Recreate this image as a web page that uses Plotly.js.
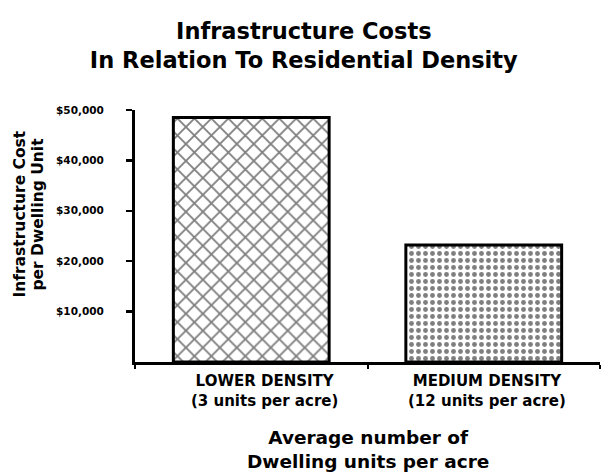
<!DOCTYPE html>
<html>
<head>
<meta charset="utf-8">
<script src="https://cdn.plot.ly/plotly-3.0.1.min.js"></script>
<style>html,body{margin:0;padding:0;background:#fff;}#chart{width:604px;height:473px;}</style>
</head>
<body>
<div id="chart"></div>
<script>
const categories = ["LOWER DENSITY", "MEDIUM DENSITY"];
const subLabels = ["(3 units per acre)", "(12 units per acre)"];
const costs = [48500, 23200];
const tickValues = [10000, 20000, 30000, 40000, 50000];
const tickLabels = ["$10,000", "$20,000", "$30,000", "$40,000", "$50,000"];
const titleLines = ["Infrastructure Costs", "In Relation To Residential Density"];
const xTitleLines = ["Average number of", "Dwelling units per acre"];
const yTitleLines = ["Infrastructure Cost", "per Dwelling Unit"];

const F = "DejaVu Sans, Liberation Sans, Arial, sans-serif";

const trace = {
  type: "bar",
  x: categories,
  y: costs,
  width: 0.67,
  marker: {
    color: "#ffffff",
    line: {color: "#000000", width: 3},
    pattern: {
      shape: ["x", "."],
      size: [12, 7],
      solidity: [0.28, 0.38],
      fgcolor: "#000000",
      bgcolor: "#ffffff",
      fillmode: "overlay"
    }
  },
  hoverinfo: "none"
};

const catShift = [13, 3];
const annotations = [];
categories.forEach((c, i) => {
  annotations.push({
    xref: "x", yref: "paper", x: c, y: 0,
    yanchor: "middle", xanchor: "center", yshift: -29, xshift: catShift[i],
    text: "<b>" + c + "</b><br><b>" + subLabels[i] + "</b>", showarrow: false,
    align: "center", borderpad: 0,
    font: {family: F, size: 15, color: "#000"}
  });
});
annotations.push({
  xref: "paper", yref: "paper", x: 0.5, y: 0, yanchor: "middle", yshift: -87,
  text: xTitleLines.map(t => "<b>" + t + "</b>").join("<br>"),
  showarrow: false, font: {family: F, size: 18.5, color: "#000"}
});
const yTitleX = [20, 38];
yTitleLines.forEach((t, i) => {
  annotations.push({
    xref: "paper", yref: "paper", x: (yTitleX[i] - 135) / 465, xanchor: "center",
    y: 0.585, yanchor: "middle", textangle: -90, borderpad: 0,
    text: "<b>" + t + "</b>", showarrow: false,
    font: {family: F, size: 15.5, color: "#000"}
  });
});

const layout = {
  width: 604, height: 473,
  margin: {l: 135, r: 4, t: 110, b: 111},
  paper_bgcolor: "#fff", plot_bgcolor: "#fff",
  showlegend: false,
  title: {
    text: titleLines.map(t => "<b>" + t + "</b>").join("<br>"),
    font: {family: F, size: 22.5, color: "#000"},
    x: 0.503, xanchor: "center", y: 0.918, yanchor: "top"
  },
  xaxis: {
    type: "category", range: [-0.5, 1.5],
    showline: true, linecolor: "#000", linewidth: 3,
    showgrid: false, zeroline: false,
    ticks: "outside", tickson: "boundaries", ticklen: 4, tickwidth: 2, tickcolor: "#000",
    showticklabels: false, fixedrange: true
  },
  yaxis: {
    range: [0, 50000],
    showline: true, linecolor: "#000", linewidth: 3,
    showgrid: false, zeroline: false,
    tickvals: tickValues, ticktext: tickLabels.map(t => "<b>" + t + "</b>"),
    ticks: "outside", ticklen: 6, tickwidth: 2.5, tickcolor: "#000",
    ticklabelstandoff: 20,
    tickfont: {family: F, size: 10.5, color: "#000"},
    fixedrange: true
  },
  annotations: annotations
};

Plotly.newPlot("chart", [trace], layout, {staticPlot: true, displayModeBar: false});
</script>
</body>
</html>
